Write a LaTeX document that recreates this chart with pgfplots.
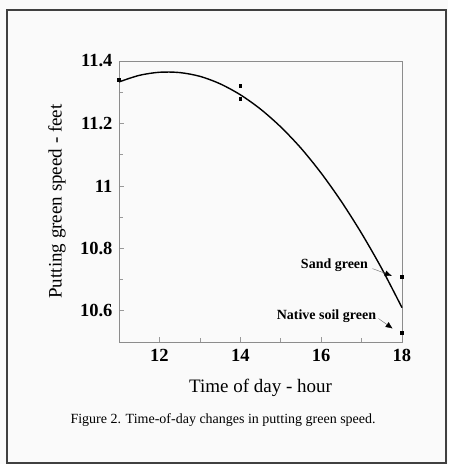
\documentclass[border=0pt]{standalone}
\usepackage{fontspec}
\setmainfont{Liberation Serif}
\usepackage{pgfplots}
\pgfplotsset{compat=1.18}
\usetikzlibrary{arrows.meta}
\begin{document}
\begin{tikzpicture}[x=1pt,y=1pt]
\fill[black!2] (0,0) rectangle (448,464);
\draw[black!75, line width=2pt] (7,1) rectangle (446,454);
\begin{axis}[
  at={(119pt,122pt)}, anchor=south west,
  scale only axis, width=283pt, height=281pt,
  xmin=11, xmax=18, ymin=10.5, ymax=11.4,
  xtick={12,14,16,18}, minor xtick={13,15,17},
  ytick={10.6,10.8,11,11.2,11.4}, minor ytick={10.7,10.9,11.1,11.3},
  tick pos=left, tick align=inside,
  major tick length=5pt, minor tick length=4pt,
  tick style={black!40, line width=0.6pt},
  axis line style={black!45, line width=0.8pt},
  /pgf/number format/assume math mode=true,
  /pgf/number format/fixed,
  /pgf/number format/precision=1,
  ticklabel style={font=\bfseries\fontsize{18.5}{18.5}\selectfont},
  xticklabel style={yshift=-4pt},
  yticklabel style={xshift=-3pt},
  xlabel={Time of day - hour},
  ylabel={Putting green speed - feet},
  xlabel style={font=\fontsize{19}{19}\selectfont, at={(axis description cs:0.5,-0.164)}, anchor=center},
  ylabel style={font=\fontsize{19}{19}\selectfont, at={(axis description cs:-0.219,0.5)}, anchor=center},
  clip=false,
]
\addplot[black, line width=1.4pt, smooth, no marks] coordinates {
  (11,11.333) (11.5,11.354) (12,11.364) (12.5,11.363) (13,11.351)
  (13.5,11.327) (14,11.292) (14.5,11.246) (15,11.189) (15.5,11.121)
  (16,11.041) (16.5,10.950) (17,10.848) (17.5,10.735) (18,10.610)
};
\addplot[only marks, mark=square*, mark size=1.4pt, black] coordinates {
  (11,11.34) (14,11.32) (14,11.28) (18,10.71) (18,10.53)
};
\node[font=\bfseries\fontsize{14}{14}\selectfont] at (axis cs:16.33,10.745) {Sand green};
\node[font=\bfseries\fontsize{14}{14}\selectfont] at (axis cs:16.13,10.584) {Native soil green};
\draw[black!60, line width=0.4pt, -{Latex[length=7pt,width=6pt,fill=black,color=black]}] (axis cs:17.27,10.735) -- (axis cs:17.75,10.712);
\draw[black!60, line width=0.4pt, -{Latex[length=7pt,width=6pt,fill=black,color=black]}] (axis cs:17.42,10.575) -- (axis cs:17.77,10.543);
\end{axis}
\node[anchor=west, font=\fontsize{14}{14}\selectfont] at (67,44) {Figure 2. Time-of-day changes in putting green speed.};
\end{tikzpicture}
\end{document}
